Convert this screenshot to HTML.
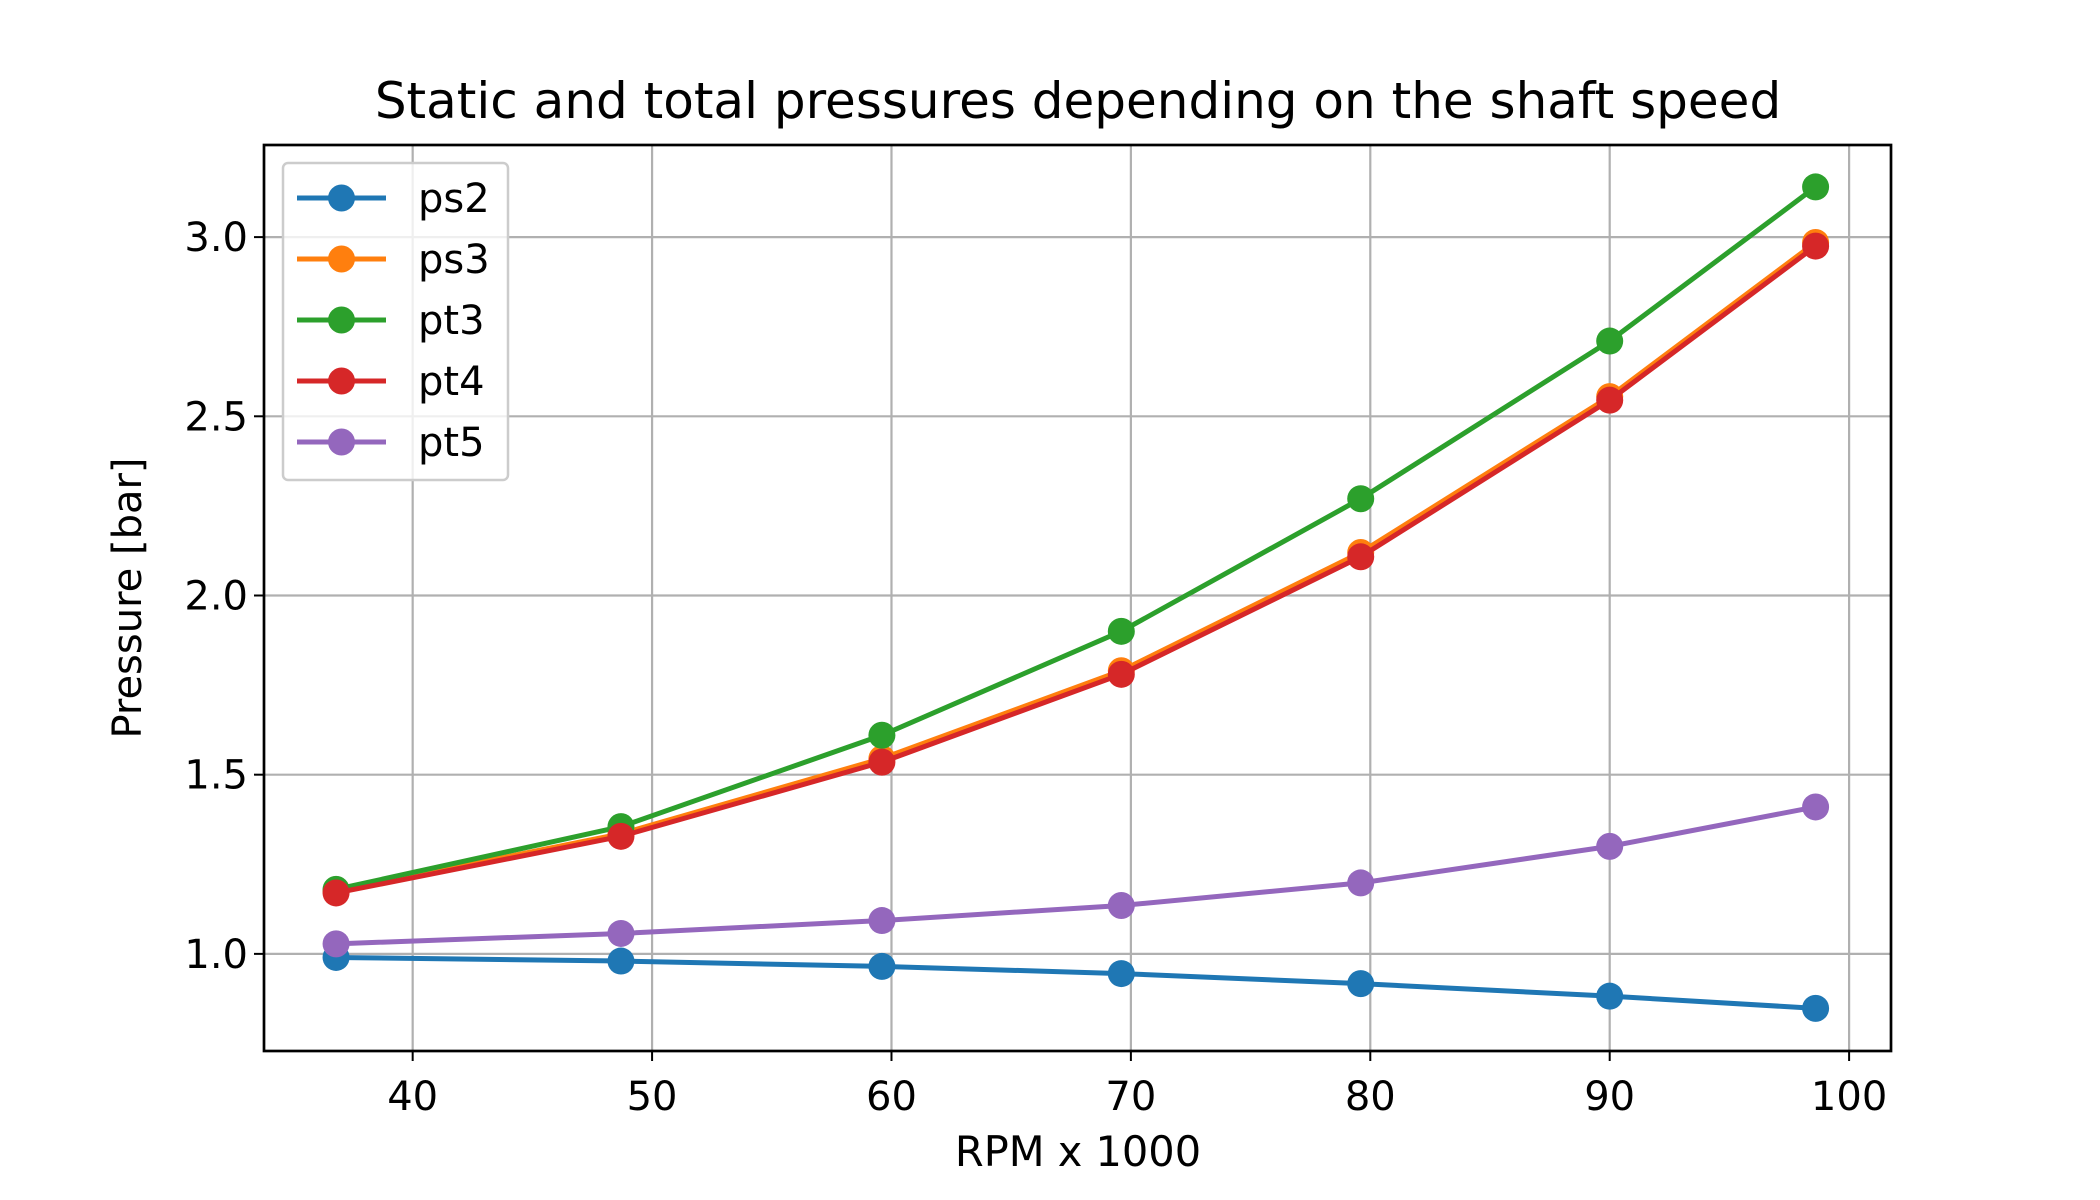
<!DOCTYPE html>
<html><head><meta charset="utf-8"><style>body{margin:0;background:#fff}svg{display:block}text{font-family:"DejaVu Sans","Liberation Sans",sans-serif;fill:#000}</style></head>
<body>
<svg id="chart" width="2100" height="1200" xmlns="http://www.w3.org/2000/svg">
<rect width="2100" height="1200" fill="#fff"/>
<g id="grid"></g>
<g id="series"></g>
<rect x="264" y="145" width="1627" height="906" fill="none" stroke="#000" stroke-width="2.7"/>
<g id="ticks"></g>
<text x="1078" y="118" font-size="50" text-anchor="middle">Static and total pressures depending on the shaft speed</text>
<text x="1078" y="1166" font-size="41.5" text-anchor="middle">RPM x 1000</text>
<text transform="translate(141,598) rotate(-90)" font-size="40" text-anchor="middle">Pressure [bar]</text>
<g id="legend"></g>
</svg>
<script>
const xValues=[36.8,48.7,59.6,69.6,79.6,90,98.6];
const ps2=[0.99,0.98,0.965,0.945,0.917,0.882,0.848];
const ps3=[1.175,1.335,1.545,1.79,2.12,2.555,2.985];
const pt3=[1.18,1.355,1.61,1.9,2.27,2.71,3.14];
const pt4=[1.17,1.328,1.535,1.78,2.108,2.545,2.975];
const pt5=[1.028,1.057,1.093,1.135,1.198,1.3,1.41];
const seriesNames=["ps2","ps3","pt3","pt4","pt5"];
const xTicks=[40,50,60,70,80,90,100];
const yTicks=[1.0,1.5,2.0,2.5,3.0];
const NS="http://www.w3.org/2000/svg";
const L=264,R=1891,T=145,B=1051,X0=33.79,X1=101.75,Y0=0.729,Y1=3.257;
const sx=v=>L+(v-X0)/(X1-X0)*(R-L);
const sy=v=>B-(v-Y0)/(Y1-Y0)*(B-T);
function mk(tag,at,parent){const e=document.createElementNS(NS,tag);for(const k in at)e.setAttribute(k,at[k]);parent.appendChild(e);return e;}
const grid=document.getElementById('grid'),ticks=document.getElementById('ticks'),ser=document.getElementById('series'),leg=document.getElementById('legend');
xTicks.forEach(t=>{const x=sx(t);
 let g=mk('line',{x1:x,x2:x,y1:T,y2:B,stroke:'#b0b0b0','stroke-width':2.2},grid);
 
 
 let k=mk('line',{x1:x,x2:x,y1:B,y2:B+10,stroke:'#000','stroke-width':2},ticks);
 
 
 let tx=mk('text',{x:x,y:1110,'font-size':40,'text-anchor':'middle'},ticks);tx.textContent=t;
 
 });
yTicks.forEach(t=>{const y=sy(t);
 let g=mk('line',{x1:L,x2:R,y1:y,y2:y,stroke:'#b0b0b0','stroke-width':2.2},grid);
 
 
 let k=mk('line',{x1:L-10,x2:L,y1:y,y2:y,stroke:'#000','stroke-width':2},ticks);
 
 
 let tx=mk('text',{x:L-16,y:y+14,'font-size':40,'text-anchor':'end'},ticks);tx.textContent=t.toFixed(1);
 
 });
const data=[ps2,ps3,pt3,pt4,pt5];
const colors=["#1f77b4","#ff7f0e","#2ca02c","#d62728","#9467bd"];
data.forEach((d,i)=>{const g=mk('g',{},ser);
 
 
 const pl=mk('polyline',{points:d.map((v,j)=>sx(xValues[j])+','+sy(v)).join(' '),fill:'none',stroke:colors[i],'stroke-width':5,'stroke-linejoin':'round'},g);
 
 
 d.forEach((v,j)=>{const c=mk('circle',{cx:sx(xValues[j]),cy:sy(v),r:13.5,fill:colors[i]},g);
  
  });});
const lb=mk('rect',{x:283,y:163,width:225,height:317,rx:5,fill:'#fff','fill-opacity':0.8,stroke:'#ccc','stroke-width':2.5},leg);


seriesNames.forEach((n,i)=>{const y=198+i*61;const g=mk('g',{},leg);
 
 
 mk('line',{x1:297,x2:386,y1:y,y2:y,stroke:colors[i],'stroke-width':5},g);
 mk('circle',{cx:341.5,cy:y,r:13.5,fill:colors[i]},g);
 const t=mk('text',{x:418,y:y+14,'font-size':40},g);t.textContent=n;});
</script>
</body></html>
